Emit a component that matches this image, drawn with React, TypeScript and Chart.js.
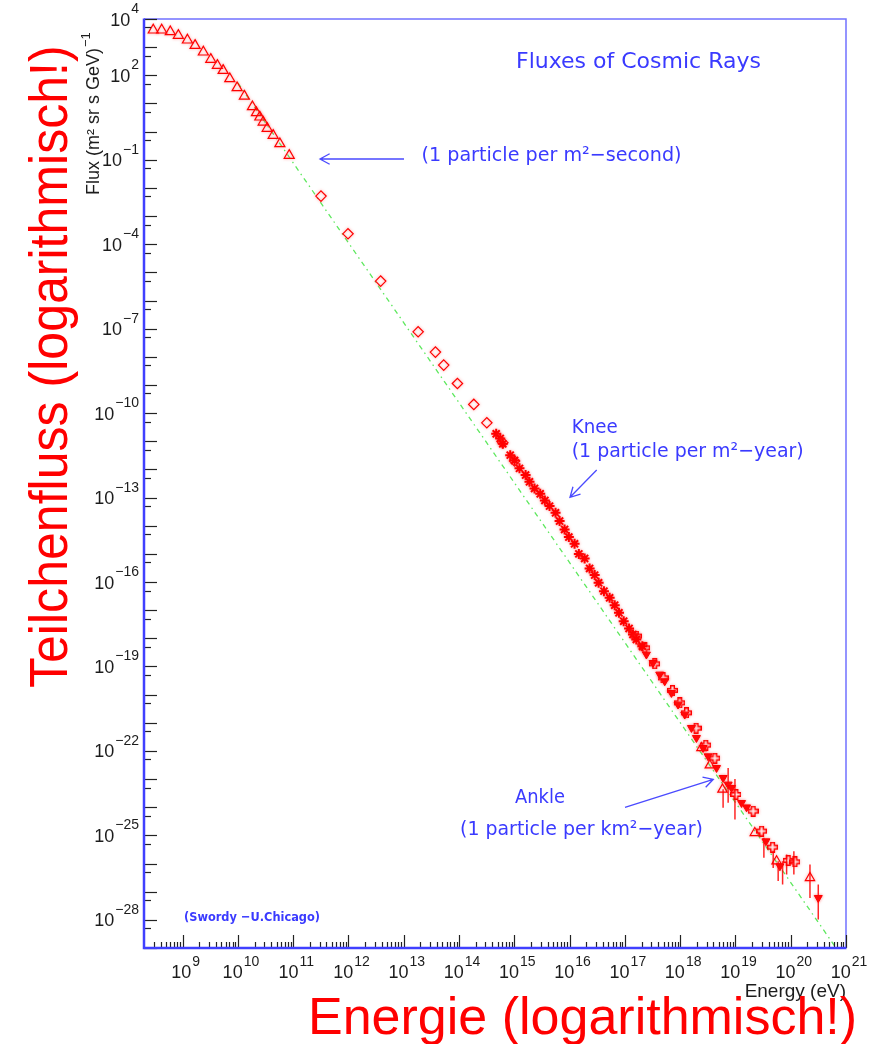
import React, { useEffect, useRef } from "react";
import { Chart, registerables } from "chart.js";

Chart.register(...registerables);

// ---------- data (energy in eV, flux in (m^2 sr s GeV)^-1) ----------
const triE = [2.94e8, 4.18e8, 5.98e8, 8.36e8, 1.22e9, 1.68e9, 2.37e9, 3.23e9, 4.25e9, 5.4e9, 7.13e9, 9.67e9, 1.31e10, 1.83e10, 2.16e10, 2.49e10, 2.86e10, 3.38e10, 4.34e10, 5.74e10, 8.47e10];
const triF = [4.04e3, 4.04e3, 3.51e3, 2.61e3, 1.78e3, 1.15e3, 667, 367, 225, 149, 75.2, 36, 18.2, 7.6, 4.66, 3.27, 2.17, 1.3, 0.733, 0.369, 0.143];

const diaE = [3.18e11, 9.8e11, 3.82e12, 1.82e13, 3.74e13, 5.28e13, 9.35e13, 1.85e14, 3.18e14, 6.19e14, 1.01e15];
const diaF = [5.11e-3, 2.34e-4, 4.89e-6, 7.73e-8, 1.47e-8, 5.07e-9, 1.13e-9, 2.04e-10, 4.53e-11, 8.9e-12, 2.0e-12];

const starE = [4.7e14, 5.56e14, 6.19e14, 8.43e14, 1.01e15, 1.24e15, 1.6e15, 1.88e15, 2.32e15, 2.94e15, 3.57e15, 4.34e15, 5.57e15, 6.59e15, 8.11e15, 9.7e15, 1.23e16, 1.47e16, 1.87e16, 2.3e16, 2.84e16, 3.35e16, 4.18e16, 5.3e16, 6.54e16, 7.82e16, 9.51e16, 1.19e17, 1.4e17, 1.61e17, 2.07e17];
const starF = [1.84e-11, 1.26e-11, 8.13e-12, 3.22e-12, 2.09e-12, 1.09e-12, 6.28e-13, 3.63e-13, 2.11e-13, 1.36e-13, 7.92e-14, 4.97e-14, 2.87e-14, 1.46e-14, 7.4e-15, 3.94e-15, 2.28e-15, 1.0e-15, 6.89e-16, 3.04e-16, 1.76e-16, 9.37e-17, 4.75e-17, 2.75e-17, 1.51e-17, 8.05e-18, 4.08e-18, 2.25e-18, 1.38e-18, 9.15e-19, 5.28e-19];

const dtriE = [1.51e17, 1.99e17, 2.45e17, 3.23e17, 4.27e17, 5.26e17, 6.95e17, 9.16e17, 1.21e18, 1.6e18, 1.97e18, 2.6e18, 3.2e18, 4.55e18, 5.99e18, 7.38e18, 8.5e18, 1.29e19, 1.59e19, 3.56e19, 6.37e19, 3.15e20];
const dtriF = [1.2e-18, 5.3e-19, 2.68e-19, 1.35e-19, 5.22e-20, 3.02e-20, 1.16e-20, 4.49e-21, 1.98e-21, 6.62e-22, 2.92e-22, 1.29e-22, 6.53e-23, 2.51e-23, 1.11e-23, 6.46e-24, 4.89e-24, 1.43e-24, 1.0e-24, 6.24e-26, 8.07e-27, 6.05e-28];

const crossE = [1.61e17, 2.29e17, 3.47e17, 4.9e17, 7.25e17, 9.84e17, 1.3e18, 1.94e18, 2.91e18, 4.24e18, 1.02e19, 2.09e19, 2.97e19, 4.7e19, 9.02e19, 1.19e20];
const crossF = [1.2e-18, 4.6e-19, 1.24e-19, 3.95e-20, 1.41e-20, 5.12e-21, 2.25e-21, 6.46e-22, 1.61e-22, 5.55e-23, 2.85e-24, 7.28e-25, 1.42e-25, 3.83e-26, 1.29e-26, 1.15e-26];

const otriE = [2.43e18, 3.44e18, 5.83e18, 2.24e19, 5.55e19, 2.23e20];
const otriF = [1.29e-22, 3.12e-23, 4.28e-24, 1.23e-25, 1.22e-26, 3.1e-27];

const errE = [5.98e18, 7.38e18, 9.8e18, 3.27e19, 4.82e19, 5.93e19, 7.13e19, 8.43e19, 1.14e20, 2.23e20, 3.15e20];
const errHi = [4.4e-24, 2.5e-23, 1.0e-23, 8.2e-26, 2.74e-26, 1.21e-26, 1.21e-26, 2.1e-26, 2.74e-26, 9.2e-27, 1.8e-27];
const errLo = [9.5e-25, 1.43e-24, 3.7e-25, 1.6e-26, 7.0e-27, 2.4e-27, 1.8e-27, 4.1e-27, 4.1e-27, 6.0e-28, 1.03e-28];

const refE = [1e10, 6.6e20];
const refF = [53.7, 1e-29];

// ---------- axes ----------
const xMin = 2e8;
const xMax = 1e21;
const yMin = 1e-29;
const yMax = 1e4;
const xLabelExps = [9, 10, 11, 12, 13, 14, 15, 16, 17, 18, 19, 20, 21];
const xMinorMantissas = [2, 3, 4, 5, 6, 7, 8, 9];
const yLabelExps = [4, 2, -1, -4, -7, -10, -13, -16, -19, -22, -25, -28];
const yTickMantissas = [1, 5];

const BLUE_TEXT = "#3a3aff";
const RED = "#ff0000";
const TICK_FONT = '"Liberation Sans", Arial, Helvetica, sans-serif';
const NOTE_FONT = '"DejaVu Sans", Verdana, sans-serif';

const notes = [
  { text: "Fluxes of Cosmic Rays", x: 516, y: 67.5, size: 22, w: 250, bold: false },
  { text: "(1 particle per m\u00B2\u2212second)", x: 421.5, y: 160.5, size: 20, w: 260, bold: false },
  { text: "Knee", x: 571.7, y: 433.3, size: 19, w: 46, bold: false },
  { text: "(1 particle per m\u00B2\u2212year)", x: 571.7, y: 457, size: 20, w: 232, bold: false },
  { text: "Ankle", x: 515, y: 803, size: 19, w: 50, bold: false },
  { text: "(1 particle per km\u00B2\u2212year)", x: 460, y: 835, size: 20, w: 243, bold: false },
  { text: "(Swordy \u2212U.Chicago)", x: 184, y: 921, size: 13, w: 136, bold: true },
];

const arrows = [
  [404, 159, 320, 159],
  [596.7, 470, 570, 497.3],
  [625, 807.3, 713.3, 779.3],
];

const HALO_DATASETS = [0, 1, 2, 3, 4, 5];

function pts(xs: number[], ys: number[]) {
  return xs.map((x, i) => ({ x, y: ys[i] }));
}

function makeOpenCross(): HTMLCanvasElement {
  const size = 11;
  const c = document.createElement("canvas");
  c.width = size;
  c.height = size;
  const g = c.getContext("2d")!;
  const h = size / 2;
  const t = 1.8;
  const lo = 0.7;
  const hi = size - 0.7;
  g.strokeStyle = RED;
  g.lineWidth = 1.4;
  g.beginPath();
  g.moveTo(h - t, lo);
  g.lineTo(h + t, lo);
  g.lineTo(h + t, h - t);
  g.lineTo(hi, h - t);
  g.lineTo(hi, h + t);
  g.lineTo(h + t, h + t);
  g.lineTo(h + t, hi);
  g.lineTo(h - t, hi);
  g.lineTo(h - t, h + t);
  g.lineTo(lo, h + t);
  g.lineTo(lo, h - t);
  g.lineTo(h - t, h - t);
  g.closePath();
  g.stroke();
  return c;
}

function drawPow(ctx: CanvasRenderingContext2D, exp: number, x: number, baseY: number, align: "right" | "center") {
  const expStr = exp < 0 ? "\u2212" + String(-exp) : String(exp);
  ctx.font = `18px ${TICK_FONT}`;
  const bw = ctx.measureText("10").width;
  ctx.font = `14px ${TICK_FONT}`;
  const ew = ctx.measureText(expStr).width;
  const total = bw + 1 + ew;
  const x0 = align === "right" ? x - total : x - total / 2;
  ctx.textAlign = "left";
  ctx.textBaseline = "alphabetic";
  ctx.font = `18px ${TICK_FONT}`;
  ctx.fillText("10", x0, baseY);
  ctx.font = `14px ${TICK_FONT}`;
  ctx.fillText(expStr, x0 + bw + 1, baseY - 12.5);
}

function drawArrow(ctx: CanvasRenderingContext2D, x1: number, y1: number, x2: number, y2: number) {
  const ang = Math.atan2(y2 - y1, x2 - x1);
  const L = 11;
  const sp = 0.5;
  ctx.beginPath();
  ctx.moveTo(x1, y1);
  ctx.lineTo(x2, y2);
  ctx.moveTo(x2 - L * Math.cos(ang - sp), y2 - L * Math.sin(ang - sp));
  ctx.lineTo(x2, y2);
  ctx.lineTo(x2 - L * Math.cos(ang + sp), y2 - L * Math.sin(ang + sp));
  ctx.stroke();
}

const haloPlugin = {
  id: "markerHalo",
  beforeDatasetDraw(chart: any, args: any) {
    if (HALO_DATASETS.includes(args.index)) {
      chart.ctx.shadowColor = "rgba(255,60,60,0.55)";
      chart.ctx.shadowBlur = 3;
    }
  },
  afterDatasetDraw(chart: any) {
    chart.ctx.shadowColor = "rgba(0,0,0,0)";
    chart.ctx.shadowBlur = 0;
  },
};

const rootPlugin = {
  id: "rootFrame",
  afterDraw(chart: any) {
    const ctx: CanvasRenderingContext2D = chart.ctx;
    const a = chart.chartArea;
    const xs = chart.scales.x;
    const ys = chart.scales.y;
    ctx.save();

    // frame
    ctx.strokeStyle = "#7272ff";
    ctx.lineWidth = 1.5;
    ctx.beginPath();
    ctx.moveTo(a.left, a.top);
    ctx.lineTo(a.right, a.top);
    ctx.lineTo(a.right, a.bottom);
    ctx.stroke();

    // y ticks (inside)
    ctx.strokeStyle = "#222";
    ctx.lineWidth = 1.2;
    for (let e = -30; e <= 4; e++) {
      for (const m of yTickMantissas) {
        const v = m * Math.pow(10, e);
        if (v < yMin * 0.999 || v > yMax * 1.001) continue;
        const py = Math.round(ys.getPixelForValue(v)) + 0.5;
        const len = m === 1 ? 13 : 7;
        ctx.beginPath();
        ctx.moveTo(a.left, py);
        ctx.lineTo(a.left + len, py);
        ctx.stroke();
      }
    }
    // x ticks (inside)
    for (let e = 8; e <= 21; e++) {
      const major = Math.pow(10, e);
      if (major >= xMin && major <= xMax) {
        const px = Math.round(xs.getPixelForValue(major)) + 0.5;
        ctx.beginPath();
        ctx.moveTo(px, a.bottom);
        ctx.lineTo(px, a.bottom - 13);
        ctx.stroke();
      }
      if (e < 21) {
        for (const m of xMinorMantissas) {
          const v = m * major;
          if (v <= xMin * 1.01 || v >= xMax) continue;
          const px = Math.round(xs.getPixelForValue(v)) + 0.5;
          ctx.beginPath();
          ctx.moveTo(px, a.bottom);
          ctx.lineTo(px, a.bottom - 6);
          ctx.stroke();
        }
      }
    }

    // left and bottom axis lines
    ctx.strokeStyle = "#4040ff";
    ctx.lineWidth = 2.5;
    ctx.beginPath();
    ctx.moveTo(a.left, a.top - 0.5);
    ctx.lineTo(a.left, a.bottom);
    ctx.lineTo(a.right + 0.5, a.bottom);
    ctx.stroke();

    // tick labels
    ctx.fillStyle = "#1c1c1c";
    for (const e of yLabelExps) {
      const py = ys.getPixelForValue(Math.pow(10, e));
      drawPow(ctx, e, a.left - 5, py + 6.5, "right");
    }
    for (const e of xLabelExps) {
      const px = xs.getPixelForValue(Math.pow(10, e));
      drawPow(ctx, e, px + 3, a.bottom + 30, "center");
    }

    // axis titles
    ctx.font = `19px ${TICK_FONT}`;
    ctx.textAlign = "right";
    ctx.fillText("Energy (eV)", a.right, a.bottom + 49, 102);

    ctx.save();
    ctx.translate(99, 195);
    ctx.rotate(-Math.PI / 2);
    ctx.textAlign = "left";
    ctx.font = `18px ${TICK_FONT}`;
    const fluxTxt = "Flux (m\u00B2 sr s GeV)";
    const fw = ctx.measureText(fluxTxt).width;
    ctx.fillText(fluxTxt, 0, 0);
    ctx.font = `13px ${TICK_FONT}`;
    ctx.fillText("\u22121", fw + 1, -9);
    ctx.restore();

    // annotations
    ctx.fillStyle = BLUE_TEXT;
    ctx.textAlign = "left";
    for (const n of notes) {
      ctx.font = `${n.bold ? "bold " : ""}${n.size}px ${NOTE_FONT}`;
      ctx.fillText(n.text, n.x, n.y, n.w);
    }
    ctx.strokeStyle = "#4a4aff";
    ctx.lineWidth = 1.3;
    for (const [x1, y1, x2, y2] of arrows) drawArrow(ctx, x1, y1, x2, y2);

    // big red slide labels
    ctx.fillStyle = RED;
    ctx.font = `52px ${TICK_FONT}`;
    ctx.textAlign = "left";
    ctx.fillText("Energie (logarithmisch!)", 308, 1034);
    ctx.save();
    ctx.translate(67, 688);
    ctx.rotate(-Math.PI / 2);
    ctx.scale(0.927, 1);
    ctx.font = `54px ${TICK_FONT}`;
    ctx.fillText("Teilchenfluss (logarithmisch!)", 0, 0);
    ctx.restore();

    ctx.restore();
  },
};

export default function App() {
  const ref = useRef<HTMLCanvasElement | null>(null);
  useEffect(() => {
    document.body.style.margin = "0";
    const canvas = ref.current;
    if (!canvas) return;
    const cross = makeOpenCross();
    const errData: any[] = [];
    errE.forEach((e, i) => {
      errData.push({ x: e, y: errLo[i] }, { x: e, y: errHi[i] }, { x: e, y: null });
    });
    const chart = new Chart(canvas, {
      type: "scatter",
      data: {
        datasets: [
          { data: pts(starE, starF), pointStyle: "star", pointRadius: 5, borderColor: RED, backgroundColor: RED, pointBorderWidth: 2 } as any,
          { data: pts(dtriE, dtriF), pointStyle: "triangle", rotation: 180, pointRadius: 4.6, borderColor: RED, backgroundColor: RED, pointBorderWidth: 1 } as any,
          { data: pts(crossE, crossF), pointStyle: cross, pointRadius: 5 } as any,
          { data: pts(otriE, otriF), pointStyle: "triangle", pointRadius: 5.4, borderColor: RED, backgroundColor: "rgba(255,255,255,0)", pointBorderWidth: 1.2 } as any,
          { data: pts(triE, triF), pointStyle: "triangle", pointRadius: 5.8, borderColor: RED, backgroundColor: "rgba(255,255,255,0)", pointBorderWidth: 1.2 } as any,
          { data: pts(diaE, diaF), pointStyle: "rectRot", pointRadius: 5.2, borderColor: RED, backgroundColor: "rgba(255,255,255,0)", pointBorderWidth: 1.2 } as any,
          { type: "line", data: errData, showLine: true, spanGaps: false, pointRadius: 0, borderColor: "rgba(255,0,0,0.85)", borderWidth: 1.5 } as any,
          { type: "line", data: pts(refE, refF), showLine: true, pointRadius: 0, borderColor: "#5ee85e", borderWidth: 1.3, borderDash: [5, 4, 1.5, 4] } as any,
        ],
      },
      options: {
        responsive: false,
        animation: false,
        events: [],
        layout: { padding: { left: 144, top: 19, right: 36, bottom: 96 } },
        scales: {
          x: { type: "logarithmic", min: xMin, max: xMax, display: false },
          y: { type: "logarithmic", min: yMin, max: yMax, display: false },
        },
        plugins: { legend: { display: false }, tooltip: { enabled: false } },
      } as any,
      plugins: [haloPlugin, rootPlugin],
    });
    return () => chart.destroy();
  }, []);
  return (
    <div style={{ position: "fixed", left: 0, top: 0, width: 882, height: 1044, background: "#fff" }}>
      <canvas ref={ref} width={882} height={1044} style={{ display: "block" }} />
    </div>
  );
}
